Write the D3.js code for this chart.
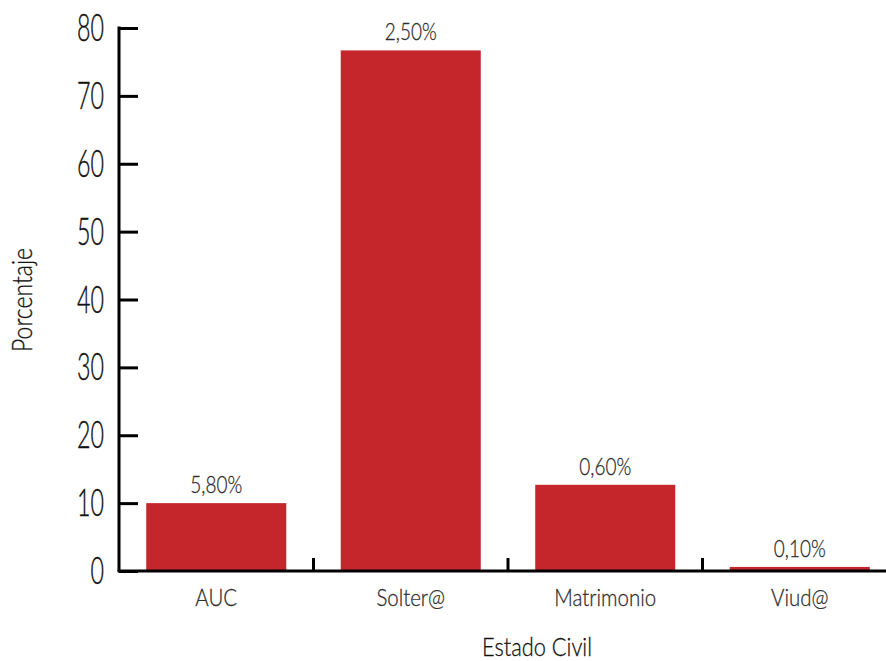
<!DOCTYPE html>
<html>
<head>
<meta charset="utf-8">
<script src="https://cdn.jsdelivr.net/npm/d3@7"></script>
<style>
  html, body { margin: 0; padding: 0; background: #fff; }
  svg text { font-family: Lato, "Open Sans", sans-serif; font-weight: 300; }
</style>
</head>
<body>
<svg id="chart" width="886" height="661"></svg>
<script>
const categories = ["AUC", "Solter@", "Matrimonio", "Viud@"];
const values = [10.0, 76.7, 12.7, 0.6];
const valueLabels = ["5,80%", "2,50%", "0,60%", "0,10%"];
const yTicks = [0, 10, 20, 30, 40, 50, 60, 70, 80];
const xTitle = "Estado Civil";
const yTitle = "Porcentaje";

const svg = d3.select("#chart");
const x0 = 119, x1 = 897, yBase = 571, yTop = 28;

const x = d3.scaleBand().domain(categories).range([x0, x1]).paddingInner(0.28).paddingOuter(0.14);
const y = d3.scaleLinear().domain([0, 80]).range([yBase, yTop]);

// condensed text helper: scales text horizontally so that a sample text matches a width
function condense(sel, sampleText, targetWidth, fontSize) {
  const probe = svg.append("text").attr("font-size", fontSize).text(sampleText);
  const w = probe.node().getComputedTextLength();
  probe.remove();
  const s = targetWidth / w;
  sel.each(function () {
    const t = d3.select(this);
    const px = +t.attr("data-x"), py = +t.attr("data-y"), rot = t.attr("data-rot");
    t.attr("transform", `translate(${px},${py})${rot ? ` rotate(${rot})` : ""} scale(${s},1)`);
  });
}

// bars
svg.append("g").selectAll("rect").data(categories).join("rect")
  .attr("x", d => x(d))
  .attr("y", (d, i) => y(values[i]))
  .attr("width", x.bandwidth())
  .attr("height", (d, i) => y(0) - y(values[i]))
  .attr("fill", "#c4262c");

// value labels
const vl = svg.append("g").selectAll("text").data(categories).join("text")
  .attr("data-x", d => x(d) + x.bandwidth() / 2)
  .attr("data-y", (d, i) => y(values[i]) - 10)
  .attr("text-anchor", "middle")
  .attr("font-size", 24)
  .attr("fill", "#2e2e2e")
  .attr("stroke", "#2e2e2e").attr("stroke-width", 0.3)
  .text((d, i) => valueLabels[i]);
condense(vl, "5,80%", 52, 24);

// y axis
const yAxis = d3.axisRight(y).tickValues(yTicks).tickSize(19).tickFormat("");
const yg = svg.append("g").attr("transform", `translate(${x0},0)`).call(yAxis);
yg.select(".domain").attr("stroke", "#000").attr("stroke-width", 3).attr("d", `M0,${yTop - 1.5}V${yBase}`);
yg.selectAll(".tick line").attr("stroke", "#000").attr("stroke-width", 3);
const yl = svg.append("g").selectAll("text").data(yTicks).join("text")
  .attr("data-x", x0 - 15)
  .attr("data-y", d => y(d) + 13)
  .attr("text-anchor", "end")
  .attr("font-size", 37)
  .attr("fill", "#111")
  .attr("stroke", "#111").attr("stroke-width", 0.4)
  .text(d => d);
condense(yl, "80", 27, 37);

// x axis
const xg = svg.append("g").attr("transform", `translate(0,${yBase})`);
xg.append("line").attr("x1", x0 - 1.5).attr("x2", 886).attr("y1", 0).attr("y2", 0)
  .attr("stroke", "#000").attr("stroke-width", 3);
const boundaries = categories.slice(1).map(d => x(d) - x.step() * x.paddingInner() / 2);
xg.selectAll("line.tk").data(boundaries).join("line").attr("class", "tk")
  .attr("x1", d => d).attr("x2", d => d).attr("y1", 0).attr("y2", -13)
  .attr("stroke", "#000").attr("stroke-width", 3);
const xl = svg.append("g").selectAll("text").data(categories).join("text")
  .attr("data-x", d => x(d) + x.bandwidth() / 2)
  .attr("data-y", yBase + 35)
  .attr("text-anchor", "middle")
  .attr("font-size", 24)
  .attr("fill", "#2e2e2e")
  .attr("stroke", "#2e2e2e").attr("stroke-width", 0.3)
  .text(d => d);
condense(xl, "Matrimonio", 102, 24);

// titles
const xt = svg.append("text").attr("data-x", 537).attr("data-y", 656).attr("text-anchor", "middle")
  .attr("font-size", 26).attr("fill", "#111")
  .attr("stroke", "#111").attr("stroke-width", 0.3).text(xTitle);
condense(xt, xTitle, 110, 26);
const yt = svg.append("text").attr("data-x", 32).attr("data-y", 300).attr("data-rot", -90)
  .attr("text-anchor", "middle")
  .attr("font-size", 27).attr("fill", "#111")
  .attr("stroke", "#111").attr("stroke-width", 0.3).text(yTitle);
condense(yt, yTitle, 104, 27);
</script>
</body>
</html>
